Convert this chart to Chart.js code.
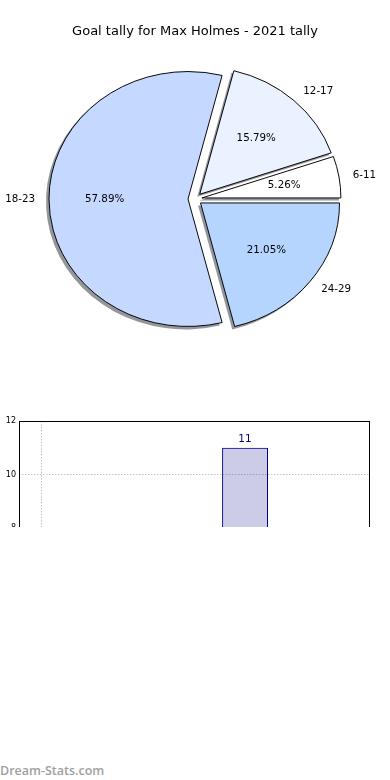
<!DOCTYPE html>
<html>
<head>
<meta charset="utf-8">
<script src="https://cdn.jsdelivr.net/npm/chart.js@4.4.0/dist/chart.umd.min.js"></script>
<style>
  html, body { margin: 0; padding: 0; background: #fff; }
  body { width: 390px; height: 780px; position: relative; overflow: hidden; }
  #pieBox { position: absolute; left: 0; top: 0; }
  #barBox { position: absolute; left: 0; top: 400px; width: 390px; height: 127px; overflow: hidden; }
  #mark { position: absolute; left: 0; top: 762px; font-family: "Open Sans", sans-serif; font-weight: 600; font-size: 12.5px; color: #a0a0a0; }
</style>
</head>
<body>
<div id="pieBox"><canvas id="pie" width="390" height="360"></canvas></div>
<div id="barBox"><canvas id="bar" width="390" height="400"></canvas></div>
<div id="mark">Dream-Stats.com</div>
<script>
// goals per age group (2021)
const ageGroups = ['6-11', '12-17', '18-23', '24-29'];
const goals = [1, 3, 11, 4];
const sliceColors = ['#ffffff', '#eaf1ff', '#c5d8ff', '#b5d5ff'];
const titleText = 'Goal tally for Max Holmes - 2021 tally';

// bar chart (only top part is visible)
const yTicks = { min: 0, max: 12, step: 2 };
const xGridAt = [0];

const PIE_RX = 139;     // horizontal radius
const PIE_SY = 0.917;   // squash -> ellipse
const EXPLODE = 7;
const SHADOW = 2.5;

// chart.js goes clockwise, so reverse to match the counter-clockwise pie
const order = ageGroups.map((_, i) => i).reverse();
const total = goals.reduce((a, b) => a + b, 0);

const pieShape = {
  id: 'pieShape',
  beforeDatasetsDraw(chart) {
    const { ctx, chartArea: a } = chart;
    const cx = (a.left + a.right) / 2, cy = (a.top + a.bottom) / 2;
    const arcs = chart.getDatasetMeta(0).data;
    arcs.forEach(arc => {
      const mid = (arc.startAngle + arc.endAngle) / 2;
      arc.x = cx + EXPLODE * Math.cos(mid);
      arc.y = cy + EXPLODE * Math.sin(mid);
    });
    ctx.save();
    ctx.translate(cx, cy);
    ctx.scale(1, PIE_SY);
    ctx.translate(-cx, -cy);
    // drop shadows (down-left), drawn under the wedges
    ctx.save();
    ctx.translate(-SHADOW, SHADOW / PIE_SY);
    ctx.fillStyle = 'rgba(40, 45, 55, 0.5)';
    arcs.forEach(arc => {
      ctx.beginPath();
      ctx.moveTo(arc.x, arc.y);
      ctx.arc(arc.x, arc.y, arc.outerRadius + 0.5, arc.startAngle, arc.endAngle);
      ctx.closePath();
      ctx.fill();
    });
    ctx.restore();
  },
  afterDatasetsDraw(chart) {
    const { ctx, chartArea: a } = chart;
    ctx.restore();
    const cx = (a.left + a.right) / 2, cy = (a.top + a.bottom) / 2;
    const vals = chart.data.datasets[0].data;
    ctx.save();
    ctx.font = '10.3px "DejaVu Sans"';
    ctx.fillStyle = '#000';
    ctx.textBaseline = 'middle';
    chart.getDatasetMeta(0).data.forEach((arc, i) => {
      const mid = (arc.startAngle + arc.endAngle) / 2;
      const c = Math.cos(mid), s = Math.sin(mid);
      const rl = EXPLODE + PIE_RX * 1.1;
      ctx.textAlign = c >= 0 ? 'left' : 'right';
      ctx.fillText(chart.data.labels[i], cx + rl * c, cy + rl * s * PIE_SY);
      const rp = EXPLODE + PIE_RX * 0.6;
      ctx.textAlign = 'center';
      ctx.fillText((vals[i] / total * 100).toFixed(2) + '%', cx + rp * c, cy + rp * s * PIE_SY);
    });
    ctx.restore();
  }
};

new Chart(document.getElementById('pie'), {
  type: 'pie',
  data: {
    labels: order.map(i => ageGroups[i]),
    datasets: [{
      data: order.map(i => goals[i]),
      backgroundColor: order.map(i => sliceColors[i]),
      borderColor: '#000',
      borderWidth: 1,
      radius: PIE_RX,
      clip: false
    }]
  },
  options: {
    responsive: false,
    animation: false,
    rotation: 90,
    layout: { padding: { bottom: 9.6 } },
    plugins: {
      legend: { display: false },
      tooltip: { enabled: false },
      title: {
        display: true,
        text: titleText,
        color: '#000',
        font: { family: 'DejaVu Sans', size: 13, weight: 'normal' },
        padding: { top: 24, bottom: 8 }
      }
    }
  },
  plugins: [pieShape]
});

const frame = {
  id: 'frame',
  afterDraw(chart) {
    const { ctx, chartArea: a } = chart;
    ctx.save();
    ctx.strokeStyle = '#000';
    ctx.lineWidth = 1;
    ctx.strokeRect(Math.round(a.left) + 0.5, Math.round(a.top) + 0.5, Math.round(a.width) - 1, Math.round(a.height));
    ctx.restore();
  }
};

const barLabels = {
  id: 'barLabels',
  afterDatasetsDraw(chart) {
    const { ctx } = chart;
    ctx.save();
    ctx.font = '10.5px "DejaVu Sans"';
    ctx.fillStyle = '#000080';
    ctx.textAlign = 'center';
    ctx.textBaseline = 'bottom';
    chart.getDatasetMeta(0).data.forEach((bar, i) => {
      ctx.fillText(String(goals[i]), bar.x, bar.y - 3);
    });
    ctx.restore();
  }
};

new Chart(document.getElementById('bar'), {
  type: 'bar',
  data: {
    datasets: [{
      data: goals.map((v, i) => ({ x: i, y: v })),
      backgroundColor: 'rgba(0, 0, 128, 0.2)',
      borderColor: '#000080',
      borderWidth: 1,
      barPercentage: 0.45,
      categoryPercentage: 1
    }]
  },
  options: {
    responsive: false,
    animation: false,
    layout: { padding: { top: 21, right: 20, bottom: 58, left: 0 } },
    plugins: { legend: { display: false }, tooltip: { enabled: false } },
    scales: {
      x: {
        type: 'linear',
        offset: false,
        min: -0.216,
        max: 3.225,
        afterBuildTicks: s => { s.ticks = xGridAt.map(v => ({ value: v })); },
        afterFit: s => { s.height = 0; },
        ticks: { display: false },
        grid: { color: '#c4c4c4', drawTicks: false, offset: false },
        border: { display: false, dash: [1.5, 1.5] }
      },
      y: {
        min: yTicks.min,
        max: yTicks.max,
        afterFit: s => { s.width = 19; },
        ticks: { stepSize: yTicks.step, color: '#000', padding: 3, font: { family: 'DejaVu Sans', size: 8 } },
        grid: { color: '#c4c4c4', drawTicks: false },
        border: { display: false, dash: [1.5, 1.5] }
      }
    }
  },
  plugins: [frame, barLabels]
});
</script>
</body>
</html>
